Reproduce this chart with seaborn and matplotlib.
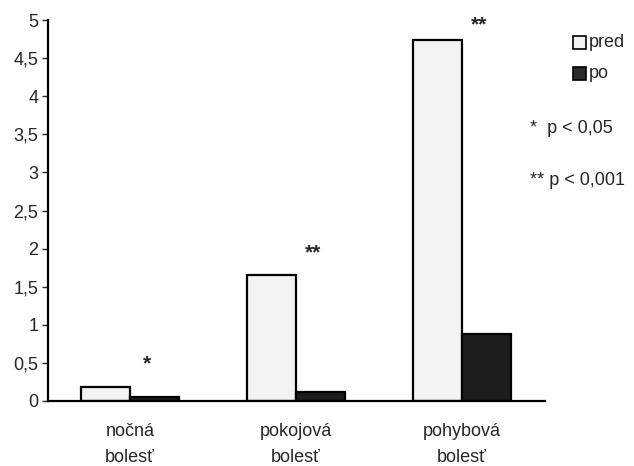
import matplotlib
matplotlib.use("Agg")
import matplotlib.pyplot as plt
import seaborn as sns
import pandas as pd

categories = ["nočná\nbolesť", "pokojová\nbolesť", "pohybová\nbolesť"]
pred = [0.19, 1.65, 4.74]
po = [0.05, 0.12, 0.88]
signif = ["*", "**", "**"]
yticks = [0, 0.5, 1, 1.5, 2, 2.5, 3, 3.5, 4, 4.5, 5]
ytick_labels = ["0", "0,5", "1", "1,5", "2", "2,5", "3", "3,5", "4", "4,5", "5"]

df = pd.DataFrame({
    "kategoria": categories * 2,
    "hodnota": pred + po,
    "skupina": ["pred"] * 3 + ["po"] * 3,
})

sns.set_style("white")
plt.rcParams["font.family"] = ["Liberation Sans", "DejaVu Sans"]

fig = plt.figure(figsize=(6.34, 4.66), dpi=100)
ax = fig.add_axes([0.0757, 0.1395, 0.784, 0.8175])

sns.barplot(data=df, x="kategoria", y="hodnota", hue="skupina",
            palette={"pred": "#f3f3f3", "po": "#1c1c1c"},
            width=0.59, edgecolor="black", linewidth=1.6, ax=ax,
            legend=False)

ax.set_xlim(-0.494, 2.5)
ax.set_ylim(0, 5)
ax.set_yticks(yticks)
ax.set_yticklabels(ytick_labels, fontsize=13)
ax.tick_params(axis="y", length=4, width=1, direction="out", pad=3, left=True)
ax.tick_params(axis="x", length=0, labelsize=13, pad=16)
for lbl in ax.get_xticklabels():
    lbl.set_linespacing(1.65)
ax.set_xlabel("")
ax.set_ylabel("")
for s in ["top", "right"]:
    ax.spines[s].set_visible(False)
for s in ["left", "bottom"]:
    ax.spines[s].set_color("black")
    ax.spines[s].set_linewidth(1.6)

for i, (s, p, q) in enumerate(zip(signif, pred, po)):
    top = max(p, q)
    ax.text(i + 0.1, top + (0.30 if i < 2 else 0.2), s, ha="center", va="center",
            fontsize=15, fontweight="bold")

# legend
fig.patches.append(plt.Rectangle((0.904, 0.895), 0.02, 0.028, transform=fig.transFigure,
                                 facecolor="#f3f3f3", edgecolor="black", linewidth=1.2, figure=fig))
fig.text(0.929, 0.909, "pred", fontsize=13, va="center", ha="left")
fig.patches.append(plt.Rectangle((0.904, 0.829), 0.02, 0.028, transform=fig.transFigure,
                                 facecolor="#2a2a2a", edgecolor="black", linewidth=1.2, figure=fig))
fig.text(0.929, 0.843, "po", fontsize=13, va="center", ha="left")
fig.text(0.836, 0.725, "*  p < 0,05", fontsize=13, va="center", ha="left")
fig.text(0.836, 0.612, "** p < 0,001", fontsize=13, va="center", ha="left")

fig.savefig("out.png", dpi=100)
